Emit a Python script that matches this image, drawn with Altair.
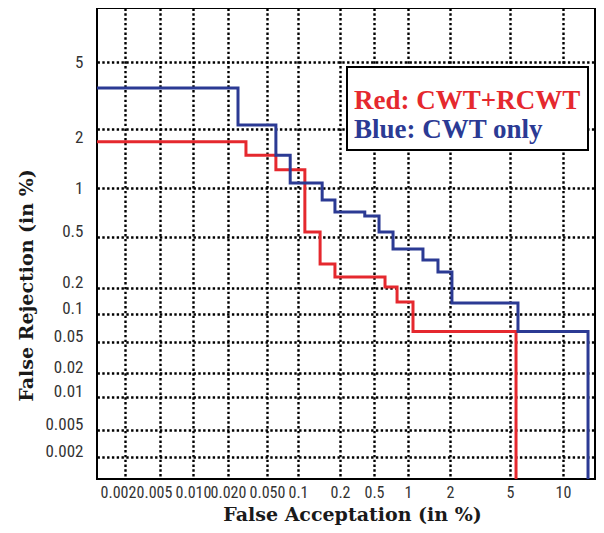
import altair as alt
import pandas as pd

# ---- data (percent values) ----
red_fa = [0.001, 0.0305, 0.061, 0.112, 0.144, 0.184, 0.626, 0.80, 1.086, 5.41]
red_fr = [1.72, 1.47, 1.24, 0.537, 0.308, 0.244, 0.204, 0.138, 0.065, 0.001]

blue_fa = [0.001, 0.0253, 0.061, 0.084, 0.149, 0.184, 0.39, 0.554, 0.737, 1.28, 1.64, 2.06, 5.55, 13.3]
blue_fr = [3.50, 2.11, 1.47, 1.06, 0.844, 0.712, 0.673, 0.537, 0.403, 0.331, 0.267, 0.134, 0.065, 0.001]

series_names = ["Red: CWT+RCWT", "Blue: CWT only"]
series_colors = ["#e5282e", "#2b3a94"]

fa_ticks = [0.002, 0.005, 0.01, 0.02, 0.05, 0.1, 0.2, 0.5, 1, 2, 5, 10]
fa_labels = ["0.002", "0.005", "0.010", "0.020", "0.050", "0.1", "0.2", "0.5", "1", "2", "5", "10"]
fr_ticks = [0.002, 0.005, 0.01, 0.02, 0.05, 0.1, 0.2, 0.5, 1, 2, 5]
fr_labels = ["0.002", "0.005", "0.01", "0.02", "0.05", "0.1", "0.2", "0.5", "1", "2", "5"]

# axis limits (percent)
fa_min, fa_max = 0.001, 14.4
fr_min, fr_max = 0.001, 10

# ---- table ----
rows = []
for name, xs, ys in [(series_names[0], red_fa, red_fr), (series_names[1], blue_fa, blue_fr)]:
    for i, (x, y) in enumerate(zip(xs, ys)):
        rows.append({"FA": x, "FR": y, "System": name, "idx": i})
df = pd.DataFrame(rows)

W, H = 498, 471
# piecewise (DET-like, normal-deviate style) pixel positions of the tick values
x_range = [0, 28, 63, 96, 131, 170, 201, 243, 277, 311, 353, 413, 466, W]
y_range = [H, 449, 422, 389, 365, 334, 306, 280, 229, 180, 121, 54, 0]


def label_expr(ticks, labels):
    expr = "''"
    for t, l in reversed(list(zip(ticks, labels))):
        expr = f"datum.value == {t} ? '{l}' : ({expr})"
    return expr


tick_font = "Roboto Condensed, DejaVu Sans Condensed, sans-serif"
title_font = "DejaVu Serif"
legend_font = "Liberation Serif"

grid_style = dict(grid=True, gridColor="black", gridDash=[2.4, 2.4], gridWidth=2.4, gridOpacity=1)

x_axis = alt.Axis(
    values=fa_ticks,
    labelExpr=label_expr(fa_ticks, fa_labels),
    **grid_style,
    domain=False, ticks=False, tickSize=0,
    labelFont=tick_font, labelFontSize=16, labelColor="#333333",
    labelBaseline="alphabetic", labelPadding=18,
    labelOffset=alt.ExprRef("datum.value == 0.002 ? -7 : datum.value == 0.005 ? -6 : 0"),
    labelOverlap=False, labelFlush=False, labelBound=False,
    title="False Acceptation (in %)",
    titleFont=title_font, titleFontWeight="bold", titleFontSize=19, titleColor="#1a1a1a",
    titleBaseline="alphabetic", titleY=41, titleX=255, titleAlign="center",
)

y_axis = alt.Axis(
    values=fr_ticks,
    labelExpr=label_expr(fr_ticks, fr_labels),
    **grid_style,
    domain=False, ticks=False, tickSize=0,
    labelFont=tick_font, labelFontSize=17, labelColor="#333333",
    labelPadding=14, labelOverlap=False, labelFlush=False, labelBound=False,
    labelOffset=alt.ExprRef("datum.value == 2 ? 8 : (datum.value == 5 || datum.value == 1) ? 0 : -6"),
    title="False Rejection (in %)",
    titleFont=title_font, titleFontWeight="bold", titleFontSize=19, titleColor="#1a1a1a",
    titleAngle=270, titleAlign="center", titleBaseline="middle",
    titleX=-71, titleY=277,
)

color_expr = f"datum.value == '{series_names[0]}' ? '{series_colors[0]}' : '{series_colors[1]}'"

legend = alt.Legend(
    orient="none", legendX=250, legendY=59,
    title=" ", titleFontSize=13, titlePadding=0,
    symbolSize=0, symbolStrokeWidth=0, symbolOpacity=0,
    labelOffset=alt.ExprRef("-27"),
    labelFont=legend_font, labelFontWeight="bold", labelFontSize=27,
    labelLimit=0, rowPadding=1,
    labelColor=alt.ExprRef(color_expr),
    fillColor="white", strokeColor="black", padding=7,
)

chart = alt.Chart(df).mark_line(interpolate="step-after", strokeWidth=3, clip=True).encode(
    x=alt.X("FA:Q", scale=alt.Scale(type="log", domain=[fa_min] + fa_ticks + [fa_max], range=x_range, nice=False), axis=x_axis),
    y=alt.Y("FR:Q", scale=alt.Scale(type="log", domain=[fr_min] + fr_ticks + [fr_max], range=y_range, nice=False), axis=y_axis),
    color=alt.Color("System:N", scale=alt.Scale(domain=series_names, range=series_colors), legend=legend),
    order="idx:Q",
).properties(
    width=W, height=H,
    autosize=alt.AutoSizeParams(type="none"),
    padding={"left": 89, "top": 0, "right": 1, "bottom": 46},
).configure_view(
    stroke="black", strokeWidth=2
).configure_legend(
    strokeWidth=2
)

chart.save("out.html", embed_options={"renderer": "svg", "actions": False})
